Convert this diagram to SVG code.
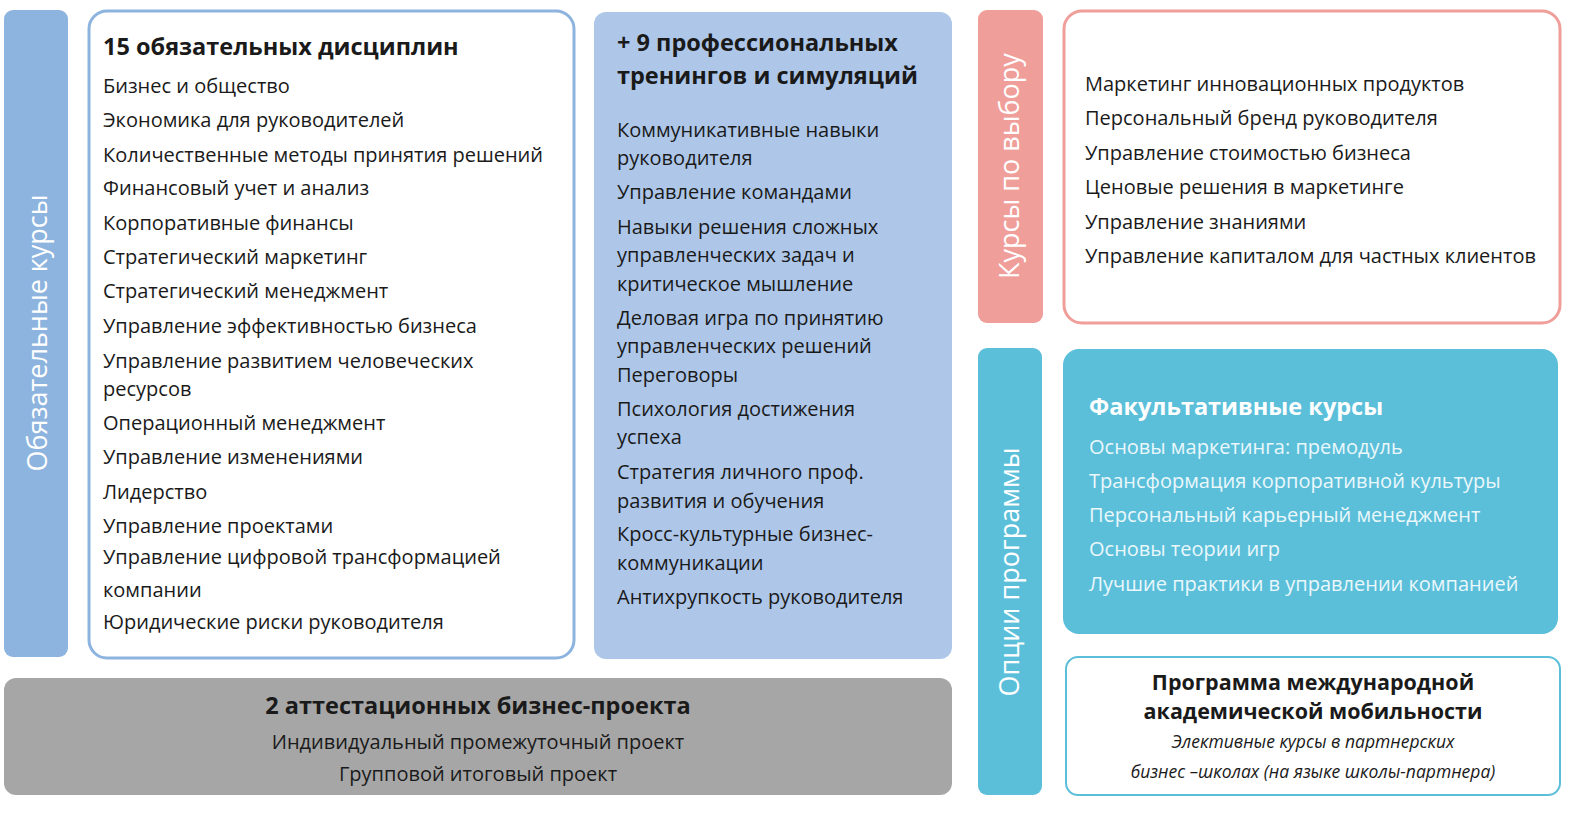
<svg xmlns="http://www.w3.org/2000/svg" width="1592" height="814" viewBox="0 0 1592 814">
<style>
text{font-family:"Open Sans","Noto Sans","Liberation Sans",sans-serif;font-size:20px;fill:#1a1a1a}
.b{font-weight:bold;font-size:23.5px}
.m{font-weight:bold;font-size:21.5px}
.v{font-size:27px;fill:#fff}
.w{fill:#fff}
.l{fill:#eaf7fb}
.i{font-style:italic;font-size:17.5px}
</style>
<rect width="1592" height="814" fill="#fff"/>
<g id="mandatory-bar"><rect x="4" y="10" width="64" height="647" rx="9" fill="#8db4de"/>
<text class="v" transform="translate(47,333) rotate(-90)" text-anchor="middle">Обязательные курсы</text></g>
<g id="mandatory"><rect x="89" y="11" width="485" height="647" rx="18" fill="#fff" stroke="#8db4de" stroke-width="3"/>
<text class="b" x="103" y="55">15 обязательных дисциплин</text>
<text x="103" y="93">Бизнес и общество</text>
<text x="103" y="127">Экономика для руководителей</text>
<text x="103" y="162">Количественные методы принятия решений</text>
<text x="103" y="195">Финансовый учет и анализ</text>
<text x="103" y="230">Корпоративные финансы</text>
<text x="103" y="264">Стратегический маркетинг</text>
<text x="103" y="298">Стратегический менеджмент</text>
<text x="103" y="333">Управление эффективностью бизнеса</text>
<text x="103" y="368">Управление развитием человеческих</text>
<text x="103" y="396">ресурсов</text>
<text x="103" y="430">Операционный менеджмент</text>
<text x="103" y="464">Управление изменениями</text>
<text x="103" y="499">Лидерство</text>
<text x="103" y="533">Управление проектами</text>
<text x="103" y="564">Управление цифровой трансформацией</text>
<text x="103" y="597">компании</text>
<text x="103" y="629">Юридические риски руководителя</text></g>
<g id="trainings"><rect x="594" y="12" width="358" height="647" rx="12" fill="#aec7e9"/>
<text class="b" x="617" y="51">+ 9 профессиональных</text>
<text class="b" x="617" y="84">тренингов и симуляций</text>
<text x="617" y="137">Коммуникативные навыки</text>
<text x="617" y="165">руководителя</text>
<text x="617" y="199">Управление командами</text>
<text x="617" y="234">Навыки решения сложных</text>
<text x="617" y="262">управленческих задач и</text>
<text x="617" y="291">критическое мышление</text>
<text x="617" y="325">Деловая игра по принятию</text>
<text x="617" y="353">управленческих решений</text>
<text x="617" y="382">Переговоры</text>
<text x="617" y="416">Психология достижения</text>
<text x="617" y="444">успеха</text>
<text x="617" y="479">Стратегия личного проф.</text>
<text x="617" y="508">развития и обучения</text>
<text x="617" y="541">Кросс-культурные бизнес-</text>
<text x="617" y="570">коммуникации</text>
<text x="617" y="604">Антихрупкость руководителя</text></g>
<g id="projects"><rect x="4" y="678" width="948" height="117" rx="12" fill="#a6a6a6"/>
<text class="b" x="478" y="714" text-anchor="middle">2 аттестационных бизнес-проекта</text>
<text x="478" y="749" text-anchor="middle">Индивидуальный промежуточный проект</text>
<text x="478" y="781" text-anchor="middle">Групповой итоговый проект</text></g>
<g id="elective-bar"><rect x="978" y="10" width="65" height="313" rx="9" fill="#f09e9a"/>
<text class="v" transform="translate(1019,166) rotate(-90)" text-anchor="middle">Курсы по выбору</text></g>
<g id="elective"><rect x="1064" y="11" width="496" height="312" rx="18" fill="#fff" stroke="#f09e9a" stroke-width="3"/>
<text x="1085" y="91">Маркетинг инновационных продуктов</text>
<text x="1085" y="125">Персональный бренд руководителя</text>
<text x="1085" y="160">Управление стоимостью бизнеса</text>
<text x="1085" y="194">Ценовые решения в маркетинге</text>
<text x="1085" y="229">Управление знаниями</text>
<text x="1085" y="263">Управление капиталом для частных клиентов</text></g>
<g id="options-bar"><rect x="978" y="348" width="64" height="447" rx="9" fill="#5bbfda"/>
<text class="v" transform="translate(1019,572) rotate(-90)" text-anchor="middle">Опции программы</text></g>
<g id="optional"><rect x="1063" y="349" width="495" height="285" rx="16" fill="#5bbfda"/>
<text class="b w" x="1089" y="415">Факультативные курсы</text>
<text class="l" x="1089" y="454">Основы маркетинга: премодуль</text>
<text class="l" x="1089" y="488">Трансформация корпоративной культуры</text>
<text class="l" x="1089" y="522">Персональный карьерный менеджмент</text>
<text class="l" x="1089" y="556">Основы теории игр</text>
<text class="l" x="1089" y="591">Лучшие практики в управлении компанией</text></g>
<g id="mobility"><rect x="1066" y="657" width="494" height="138" rx="12" fill="#fff" stroke="#5bbfda" stroke-width="2"/>
<text class="m" x="1313" y="690" text-anchor="middle">Программа международной</text>
<text class="m" x="1313" y="719" text-anchor="middle">академической мобильности</text>
<text class="i" x="1313" y="748" text-anchor="middle">Элективные курсы в партнерских</text>
<text class="i" x="1313" y="778" text-anchor="middle">бизнес –школах (на языке школы-партнера)</text></g>
<g id="connectors"></g>
</svg>
